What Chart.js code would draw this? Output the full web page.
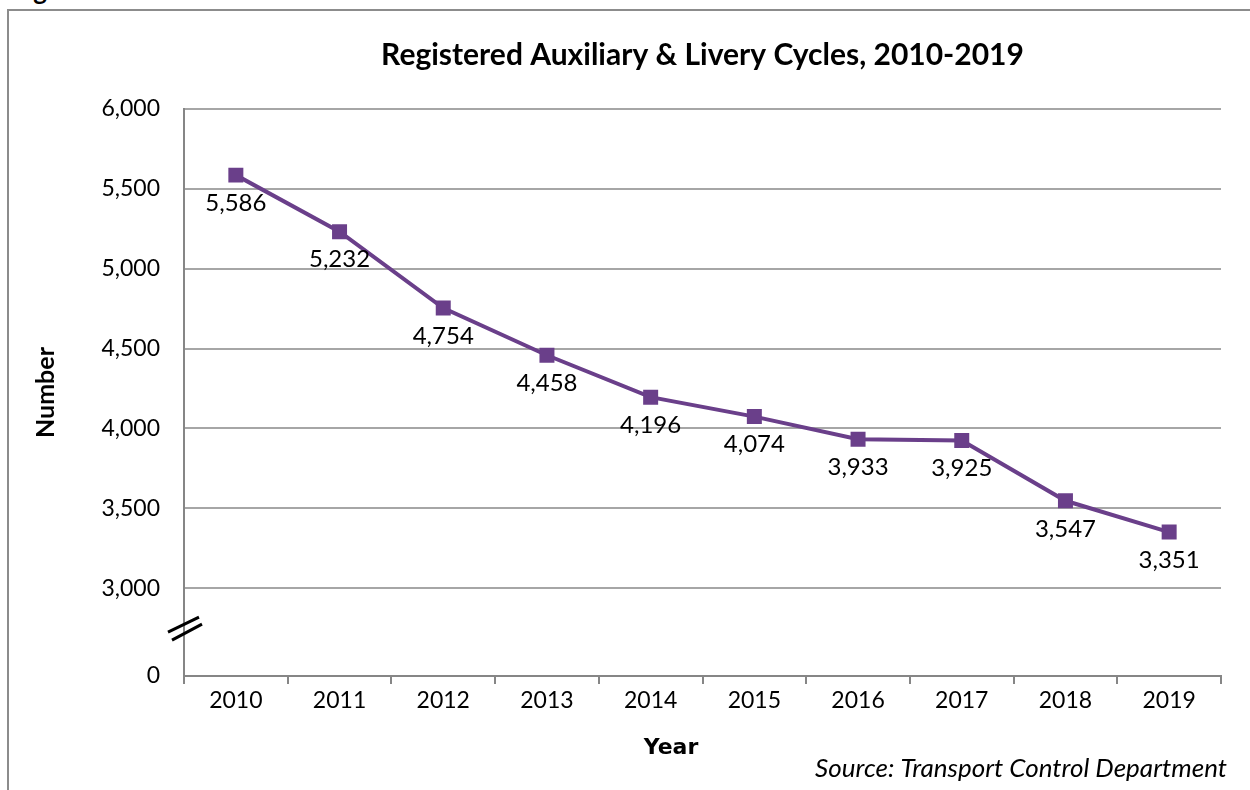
<!DOCTYPE html>
<html>
<head>
<meta charset="utf-8">
<title>Registered Auxiliary & Livery Cycles</title>
<script src="https://cdn.jsdelivr.net/npm/chart.js@4.4.0/dist/chart.umd.min.js"></script>
<style>
  html, body { margin: 0; padding: 0; background: #fff; }
  #wrap { position: relative; width: 1250px; height: 790px; overflow: hidden; }
  #frame { position: absolute; left: 7px; top: 9px; width: 1400px; height: 900px;
           border: 2px solid #8c8c8c; box-sizing: border-box; }
  #fig { position: absolute; left: 12px; top: -26px; font: bold 26px Lato, sans-serif; color: #000; }
  #chart { position: absolute; left: 0; top: 0; }
</style>
</head>
<body>
<div id="wrap">
  <div id="fig">Figure</div>
  <div id="frame"></div>
  <canvas id="chart" width="1250" height="790"></canvas>
</div>
<script>
const years = ['2010', '2011', '2012', '2013', '2014', '2015', '2016', '2017', '2018', '2019'];
const cycles = [5586, 5232, 4754, 4458, 4196, 4074, 3933, 3925, 3547, 3351];
const yTicks = [3000, 3500, 4000, 4500, 5000, 5500, 6000];
const axisFloor = 2450;   // bottom of the broken axis, labelled 0
const breakAt = 2750;     // where the // mark sits

const purple = '#6a3f8a';
const axisGray = '#868686';
const gridGray = '#a6a6a6';
const fontFace = 'Lato, "Open Sans", sans-serif';

const fmt = v => v.toLocaleString('en-US');

const extras = {
  id: 'extras',
  afterDatasetsDraw(chart) {
    const ctx = chart.ctx;
    const meta = chart.getDatasetMeta(0);
    ctx.save();
    ctx.font = '24px ' + fontFace;
    ctx.fillStyle = '#000';
    ctx.textAlign = 'center';
    ctx.textBaseline = 'middle';
    meta.data.forEach((p, i) => {
      ctx.fillText(fmt(cycles[i]), p.x, p.y + 28);
    });
    ctx.restore();
  },
  afterDraw(chart) {
    const ctx = chart.ctx;
    const area = chart.chartArea;
    const y = chart.scales.y.getPixelForValue(breakAt);
    const x = area.left;
    ctx.save();
    // axis break
    ctx.strokeStyle = '#000';
    ctx.lineWidth = 3;
    ctx.beginPath();
    ctx.moveTo(x - 16, y + 4);  ctx.lineTo(x + 15, y - 11);
    ctx.moveTo(x - 12, y + 12); ctx.lineTo(x + 18, y - 4);
    ctx.stroke();
    // x axis title and source note
    ctx.fillStyle = '#000';
    ctx.textBaseline = 'middle';
    ctx.textAlign = 'center';
    ctx.font = 'bold 22px "DejaVu Sans", sans-serif';
    ctx.fillText('Year', 671, 748);
    ctx.textAlign = 'right';
    ctx.font = 'italic 26px ' + fontFace;
    ctx.fillText('Source: Transport Control Department', 1227, 769);
    ctx.restore();
  }
};

new Chart(document.getElementById('chart'), {
  type: 'line',
  data: {
    labels: years,
    datasets: [{
      data: cycles,
      borderColor: purple,
      backgroundColor: purple,
      borderWidth: 4,
      pointStyle: 'rect',
      pointRadius: 10.6,
      pointBorderWidth: 0,
      pointBackgroundColor: purple,
      tension: 0
    }]
  },
  options: {
    responsive: false,
    animation: false,
    layout: { padding: { left: 31, right: 29, top: 0, bottom: 0 } },
    plugins: {
      legend: { display: false },
      tooltip: { enabled: false },
      title: {
        display: true,
        fullSize: false,
        text: 'Registered Auxiliary & Livery Cycles, 2010-2019',
        color: '#000',
        font: { family: fontFace, size: 30, weight: 'bold' },
        padding: { top: 37, bottom: 36 }
      }
    },
    scales: {
      x: {
        offset: true,
        grid: { offset: true, drawOnChartArea: false, tickLength: 8, color: axisGray, lineWidth: 2 },
        border: { color: axisGray, width: 2 },
        ticks: { color: '#000', padding: 3, maxRotation: 0, font: { family: fontFace, size: 23 } },
        afterFit: s => { s.height = 114; }
      },
      y: {
        min: axisFloor,
        max: 6000,
        afterBuildTicks: s => { s.ticks = [axisFloor, ...yTicks].map(v => ({ value: v })); },
        grid: {
          drawTicks: false,
          lineWidth: 2,
          color: c => (c.tick && c.tick.value === axisFloor) ? 'rgba(0,0,0,0)' : gridGray
        },
        border: { color: axisGray, width: 2 },
        ticks: {
          color: '#000',
          padding: 24,
          font: { family: fontFace, size: 23 },
          callback: v => v === axisFloor ? '0' : fmt(v)
        },
        title: {
          display: true,
          text: 'Number',
          color: '#000',
          padding: 0,
          font: { family: fontFace, size: 25, weight: 'bold' }
        },
        afterFit: s => { s.width = 153; }
      }
    }
  },
  plugins: [extras]
});
</script>
</body>
</html>
